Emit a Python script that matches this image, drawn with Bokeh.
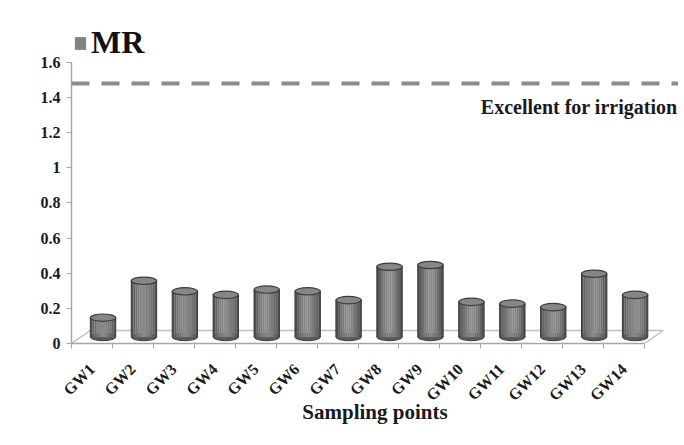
import numpy as np
from bokeh.plotting import figure
from bokeh.models import (Range1d, FixedTicker, Span, Label, Legend, LegendItem)
from bokeh.embed import file_html
from bokeh.resources import INLINE

# ---------------- data ----------------
points = ["GW1", "GW2", "GW3", "GW4", "GW5", "GW6", "GW7",
          "GW8", "GW9", "GW10", "GW11", "GW12", "GW13", "GW14"]
mr = [0.11, 0.32, 0.26, 0.24, 0.27, 0.26, 0.21,
      0.40, 0.41, 0.20, 0.19, 0.17, 0.36, 0.24]
series_name = "MR"
threshold = 1.48
threshold_label = "Excellent for irrigation"
y_ticks = [0, 0.2, 0.4, 0.6, 0.8, 1, 1.2, 1.4, 1.6]
y_tick_labels = ["0", "0.2", "0.4", "0.6", "0.8", "1", "1.2", "1.4", "1.6"]
x_title = "Sampling points"

# ---------------- style constants ----------------
FONT = "Liberation Serif"
N = len(points)
X_END = 14.83          # x range (category units), frame extends right to canvas edge
Y_END = 1.839          # y range top (room for legend inside frame)
DX = 0.27              # 3-D depth shift of the cylinders (x units)
DY = 0.037             # 3-D depth shift of the cylinders (value units)
FLOOR_DX = 0.46
FLOOR_DY = 0.074
BW = 0.62              # cylinder width
EH = 0.042             # ellipse height (value units)

p = figure(width=678, height=440, output_backend="svg", toolbar_location=None,
           x_range=Range1d(0, X_END), y_range=Range1d(0, Y_END),
           min_border_left=71, min_border_right=0, min_border_top=20,
           min_border_bottom=97)
p.outline_line_color = None
p.xgrid.visible = False
p.ygrid.visible = False
p.background_fill_color = "white"
p.border_fill_color = "white"

# ---------------- floor ----------------
floor_col = "#c0c0c0"
p.line([0, FLOOR_DX], [0, FLOOR_DY], line_color=floor_col, line_width=1.5)
p.line([FLOOR_DX, N + FLOOR_DX], [FLOOR_DY, FLOOR_DY], line_color=floor_col, line_width=1.5)
p.line([N, N + FLOOR_DX], [0, FLOOR_DY], line_color=floor_col, line_width=1.5)

# ---------------- cylinders ----------------
vals = np.array(mr)
cx = np.arange(N) + 0.5 + DX
tops = vals + DY
base = np.full(N, DY)

edge_col = "#3c3c3c"
p.ellipse(x=cx, y=base, width=BW, height=EH, fill_color="#5a5a5a",
          line_color=edge_col, line_width=1)

strip_cols = ["#505050", "#626262", "#707070", "#7b7b7b", "#838383",
              "#898989", "#898989", "#838383", "#7b7b7b", "#707070", "#626262", "#505050"]
ns = len(strip_cols)
sw = BW / ns
strip_renderers = []
for k, c in enumerate(strip_cols):
    off = -BW / 2 + sw * (k + 0.5)
    r = p.vbar(x=cx + off, width=sw * 1.05, top=tops, bottom=base,
               fill_color=c, line_color=None)
    strip_renderers.append(r)
p.segment(x0=cx - BW / 2, y0=base, x1=cx - BW / 2, y1=tops, line_color=edge_col, line_width=1)
p.segment(x0=cx + BW / 2, y0=base, x1=cx + BW / 2, y1=tops, line_color=edge_col, line_width=1)
p.ellipse(x=cx, y=tops, width=BW, height=EH, fill_color="#868686",
          line_color=edge_col, line_width=1.2)

# ---------------- threshold ----------------
p.add_layout(Span(location=threshold, dimension="width", line_color="#8c8c8c",
                  line_width=4, line_dash="18 12"))
p.add_layout(Label(x=10.0, y=threshold, y_offset=-23, text=threshold_label,
                   text_font=FONT, text_font_style="bold", text_font_size="20px",
                   text_color="#1a1a1a", text_baseline="alphabetic"))

# ---------------- legend ----------------
legend = Legend(items=[LegendItem(label=series_name, renderers=[strip_renderers[4]], index=0)],
                location=(2, 282), orientation="horizontal",
                border_line_color=None, background_fill_alpha=0,
                label_text_font=FONT, label_text_font_style="bold",
                label_text_font_size="32px", label_text_color="#111111",
                glyph_width=14, glyph_height=16, label_standoff=4,
                padding=0, margin=0, spacing=0)
p.add_layout(legend, "center")

# ---------------- axes ----------------
axis_col = "#a6a6a6"
yax = p.yaxis[0]
yax.bounds = (0, 1.6)
yax.ticker = FixedTicker(ticks=y_ticks, minor_ticks=[])
yax.major_label_overrides = {t: l for t, l in zip(y_ticks, y_tick_labels)}
yax.axis_line_color = axis_col
yax.axis_line_width = 1.5
yax.major_tick_line_color = axis_col
yax.major_tick_out = 5
yax.major_tick_in = 0
yax.minor_tick_line_color = None
yax.major_label_text_font = FONT
yax.major_label_text_font_style = "bold"
yax.major_label_text_font_size = "16px"
yax.major_label_text_color = "#1a1a1a"
yax.major_label_standoff = 6

xax = p.xaxis[0]
centers = [i + 0.5 for i in range(N)]
bounds_ticks = [float(i) for i in range(N + 1)]
xax.bounds = (0, N)
xax.ticker = FixedTicker(ticks=centers, minor_ticks=bounds_ticks)
xax.major_label_overrides = {c: name for c, name in zip(centers, points)}
xax.major_label_orientation = np.pi / 4
xax.axis_line_color = axis_col
xax.axis_line_width = 1.5
xax.major_tick_line_color = None
xax.major_tick_out = 0
xax.minor_tick_line_color = axis_col
xax.minor_tick_out = 5
xax.minor_tick_in = 0
xax.major_label_text_font = FONT
xax.major_label_text_font_style = "bold"
xax.major_label_text_font_size = "16px"
xax.major_label_text_color = "#1a1a1a"
xax.major_label_standoff = 18
xax.axis_label = x_title
xax.axis_label_text_font = FONT
xax.axis_label_text_font_style = "bold"
xax.axis_label_text_font_size = "21px"
xax.axis_label_text_color = "#1a1a1a"
xax.axis_label_standoff = -13

open("out.html", "w").write(file_html(p, INLINE))
